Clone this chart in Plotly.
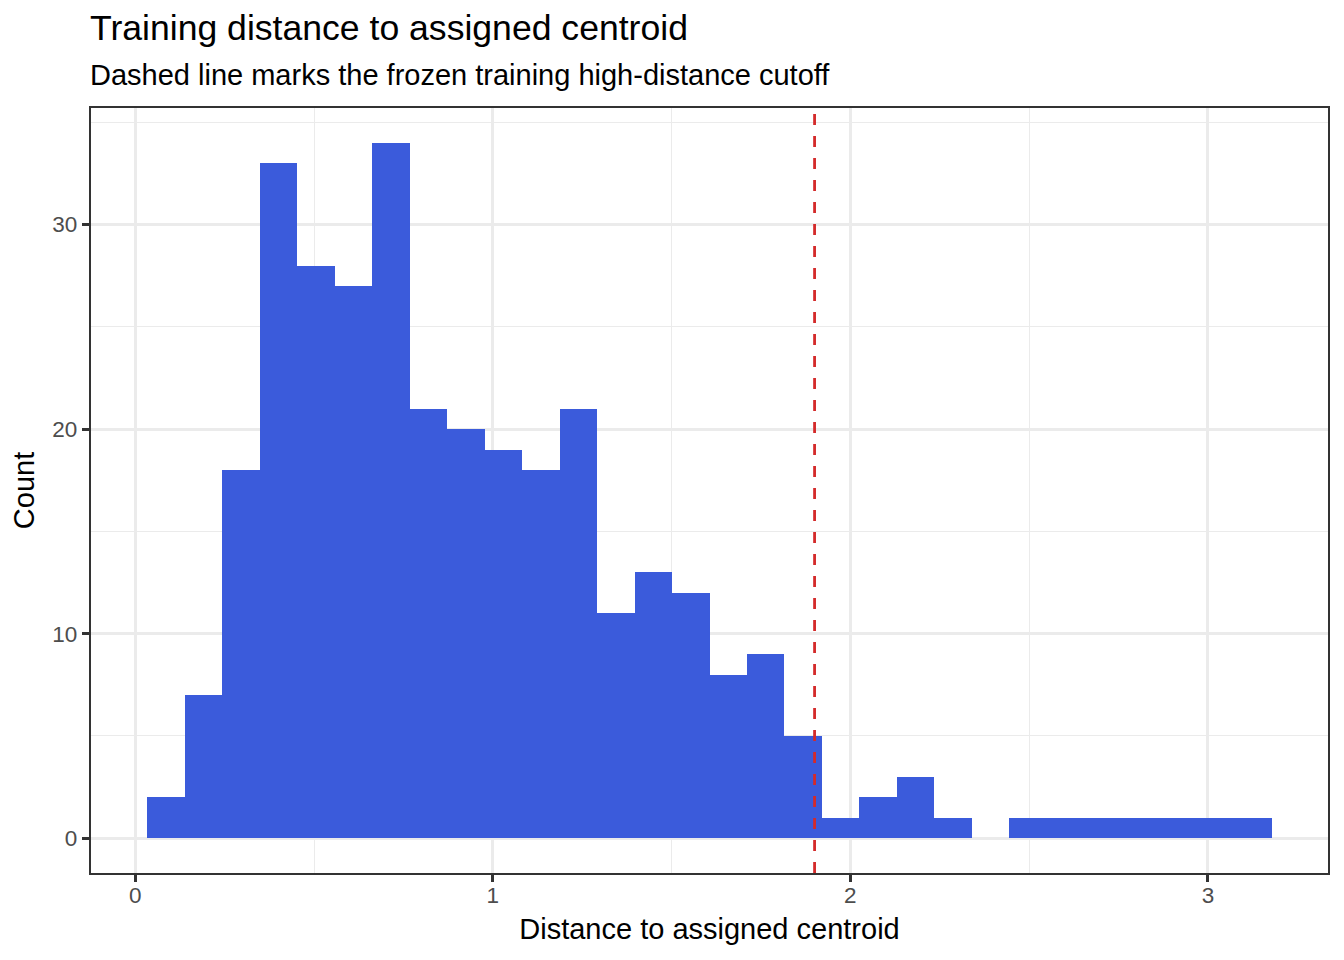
import plotly.graph_objects as go

# ---- data ----
bin_start = 0.0335          # left edge of first bin
bin_width = 0.10484         # histogram bin width
counts = [2, 7, 18, 33, 28, 27, 34, 21, 20, 19, 18, 21, 11, 13, 12,
          8, 9, 5, 1, 2, 3, 1, 0, 1, 1, 1, 1, 1, 1, 1]
cutoff = 1.90
x_ticks = [0, 1, 2, 3]
y_ticks = [0, 10, 20, 30]

title_text = "Training distance to assigned centroid"
subtitle_text = "Dashed line marks the frozen training high-distance cutoff"
x_title = "Distance to assigned centroid"
y_title = "Count"

centers = [bin_start + bin_width * (i + 0.5) for i in range(len(counts))]

FONT = "Liberation Sans, Arial, Helvetica, sans-serif"
BAR = "#3B5BDB"
RED = "#D42A2A"
GRID = "#EBEBEB"
DARK = "#333333"

# page body has an 8px margin; size the figure so the panel lands where the reference has it
W, H = 1336, 952
ML, MR, MT, MB = 83, 16, 100, 87
panel_h = H - MT - MB

fig = go.Figure()
fig.add_trace(go.Bar(
    x=centers, y=counts, width=bin_width,
    marker=dict(color=BAR, line=dict(width=0)),
    hoverinfo="x+y",
))

fig.add_shape(type="line", xref="x", yref="paper", x0=cutoff, x1=cutoff,
              y0=0, y1=1, line=dict(color=RED, width=2.8, dash="11px,11px"))

x_lo = bin_start
x_hi = bin_start + bin_width * len(counts)
xpad = (x_hi - x_lo) * 0.05
ymax = max(counts)
ypad = ymax * 0.05

axis_common = dict(
    showgrid=True, gridcolor=GRID, gridwidth=2.6,
    zeroline=False,
    showline=True, mirror=True, linecolor=DARK, linewidth=2.4,
    ticks="outside", ticklen=7, tickwidth=2.6, tickcolor=DARK,
    tickfont=dict(family=FONT, size=22.5, color="#4D4D4D"),
)

fig.update_layout(
    width=W, height=H,
    paper_bgcolor="white", plot_bgcolor="white",
    margin=dict(l=ML, r=MR, t=MT, b=MB),
    showlegend=False,
    bargap=0,
    font=dict(family=FONT, color="black"),
    xaxis=dict(
        range=[x_lo - xpad, x_hi + xpad],
        tickmode="array", tickvals=x_ticks, ticktext=[str(v) for v in x_ticks],
        ticklabelstandoff=-6,
        minor=dict(tickmode="array", tickvals=[0.5, 1.5, 2.5],
                   showgrid=True, gridcolor=GRID, gridwidth=1.4, ticks=""),
        title=dict(text=x_title, font=dict(family=FONT, size=29, color="black"),
                   standoff=11),
        **axis_common,
    ),
    yaxis=dict(
        range=[-ypad, ymax + ypad],
        tickmode="array", tickvals=y_ticks, ticktext=[str(v) for v in y_ticks],
        minor=dict(tickmode="array", tickvals=[5, 15, 25, 35],
                   showgrid=True, gridcolor=GRID, gridwidth=1.4, ticks=""),
        title=dict(text=y_title, font=dict(family=FONT, size=29, color="black"),
                   standoff=10),
        **axis_common,
    ),
    annotations=[
        dict(text=title_text, xref="paper", yref="paper", x=0,
             y=1 + (MT - 20) / panel_h,
             xanchor="left", yanchor="middle", showarrow=False, xshift=-3,
             font=dict(family=FONT, size=35.6, color="black")),
        dict(text=subtitle_text, xref="paper", yref="paper", x=0,
             y=1 + (MT - 67) / panel_h,
             xanchor="left", yanchor="middle", showarrow=False, xshift=-3,
             font=dict(family=FONT, size=29, color="black")),
    ],
)

fig.write_html("out.html")
